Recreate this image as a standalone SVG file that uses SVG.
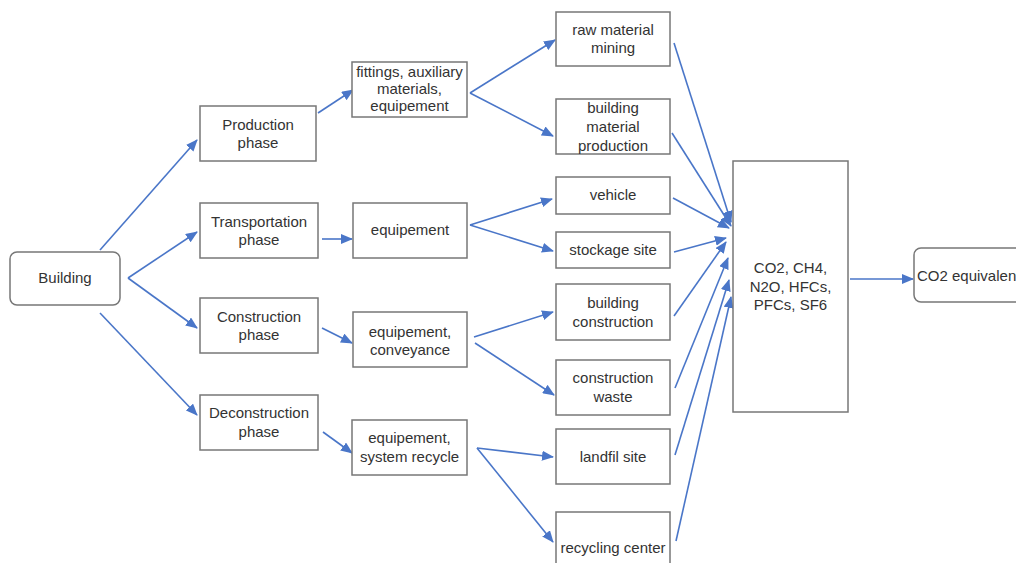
<svg xmlns="http://www.w3.org/2000/svg" width="1016" height="563" viewBox="0 0 1016 563">
<style>
.box{fill:#fff;stroke:#777;stroke-width:1.5}
.t{font-family:"Liberation Sans",Arial,sans-serif;font-size:15px;fill:#333;text-anchor:middle}
.c{fill:none;stroke:#4a76c8;stroke-width:1.6;marker-end:url(#ah)}
</style>
<defs>
<marker id="ah" markerUnits="userSpaceOnUse" markerWidth="12" markerHeight="10" refX="11" refY="5" orient="auto">
<path d="M0,0 L12,5 L0,10 z" fill="#4a76c8"/>
</marker>
</defs>
<rect width="1016" height="563" fill="#fff"/>
<g id="connectors">
<line class="c" x1="100" y1="250" x2="197" y2="140"/>
<line class="c" x1="128" y1="278" x2="197" y2="232"/>
<line class="c" x1="128" y1="278" x2="197" y2="328"/>
<line class="c" x1="100" y1="313" x2="197" y2="415"/>
<line class="c" x1="318" y1="113" x2="353" y2="90"/>
<line class="c" x1="322" y1="239" x2="352" y2="239"/>
<line class="c" x1="322" y1="328" x2="352" y2="343"/>
<line class="c" x1="323" y1="432" x2="352" y2="453"/>
<line class="c" x1="470" y1="93" x2="555" y2="40"/>
<line class="c" x1="470" y1="93" x2="553" y2="136"/>
<line class="c" x1="470" y1="225" x2="552" y2="199"/>
<line class="c" x1="470" y1="225" x2="553" y2="251"/>
<line class="c" x1="474" y1="337" x2="553" y2="312"/>
<line class="c" x1="475" y1="343" x2="554" y2="395"/>
<line class="c" x1="477" y1="448" x2="553" y2="457"/>
<line class="c" x1="477" y1="448" x2="553" y2="542"/>
<line class="c" x1="674" y1="43" x2="731" y2="222"/>
<line class="c" x1="672" y1="133" x2="731" y2="226"/>
<line class="c" x1="673" y1="198" x2="729" y2="228"/>
<line class="c" x1="674" y1="252" x2="726" y2="238"/>
<line class="c" x1="674" y1="316" x2="726" y2="242"/>
<line class="c" x1="675" y1="388" x2="728" y2="258"/>
<line class="c" x1="675" y1="455" x2="729" y2="280"/>
<line class="c" x1="676" y1="541" x2="731" y2="297"/>
<line class="c" x1="850" y1="279" x2="913" y2="279"/>
</g>
<g id="building"><rect class="box" x="10" y="252" width="110" height="53" rx="7"/><text class="t" x="65" y="283">Building</text></g>
<g id="production"><rect class="box" x="200" y="106" width="116" height="55"/><text class="t" x="258" y="130">Production</text><text class="t" x="258" y="148">phase</text></g>
<g id="transportation"><rect class="box" x="200" y="203" width="118" height="55"/><text class="t" x="259" y="227">Transportation</text><text class="t" x="259" y="245">phase</text></g>
<g id="construction"><rect class="box" x="200" y="298" width="118" height="55"/><text class="t" x="259" y="322">Construction</text><text class="t" x="259" y="340">phase</text></g>
<g id="deconstruction"><rect class="box" x="200" y="395" width="118" height="55"/><text class="t" x="259" y="418">Deconstruction</text><text class="t" x="259" y="437">phase</text></g>
<g id="fittings"><rect class="box" x="352" y="62" width="115" height="55"/><text class="t" x="409.5" y="77">fittings, auxiliary</text><text class="t" x="409.5" y="94">materials,</text><text class="t" x="409.5" y="111">equipement</text></g>
<g id="equipement"><rect class="box" x="353" y="203" width="114" height="55"/><text class="t" x="410" y="235">equipement</text></g>
<g id="conveyance"><rect class="box" x="353" y="312" width="114" height="55"/><text class="t" x="410" y="337">equipement,</text><text class="t" x="410" y="355">conveyance</text></g>
<g id="recycle"><rect class="box" x="352" y="420" width="115" height="55"/><text class="t" x="409.5" y="443">equipement,</text><text class="t" x="409.5" y="462">system recycle</text></g>
<g id="raw"><rect class="box" x="556" y="12" width="114" height="54"/><text class="t" x="613" y="35">raw material</text><text class="t" x="613" y="53">mining</text></g>
<g id="bmp"><rect class="box" x="556" y="99" width="114" height="55"/><text class="t" x="613" y="113">building</text><text class="t" x="613" y="132">material</text><text class="t" x="613" y="151">production</text></g>
<g id="vehicle"><rect class="box" x="556" y="177" width="114" height="37"/><text class="t" x="613" y="200">vehicle</text></g>
<g id="stockage"><rect class="box" x="556" y="232" width="114" height="36"/><text class="t" x="613" y="255">stockage site</text></g>
<g id="bconstruction"><rect class="box" x="556" y="284" width="114" height="56"/><text class="t" x="613" y="308">building</text><text class="t" x="613" y="327">construction</text></g>
<g id="cwaste"><rect class="box" x="556" y="360" width="114" height="55"/><text class="t" x="613" y="383">construction</text><text class="t" x="613" y="402">waste</text></g>
<g id="landfil"><rect class="box" x="556" y="429" width="114" height="55"/><text class="t" x="613" y="462">landfil site</text></g>
<g id="recycling"><rect class="box" x="556" y="512" width="114" height="70"/><text class="t" x="613" y="553">recycling center</text></g>
<g id="gases"><rect class="box" x="733" y="161" width="115" height="251"/><text class="t" x="790.5" y="273">CO2, CH4,</text><text class="t" x="790.5" y="292">N2O, HFCs,</text><text class="t" x="790.5" y="310">PFCs, SF6</text></g>
<g id="co2eq"><rect class="box" x="914" y="248" width="130" height="54" rx="7"/><text class="t" x="917" y="281" style="text-anchor:start">CO2 equivalent</text></g>
</svg>
